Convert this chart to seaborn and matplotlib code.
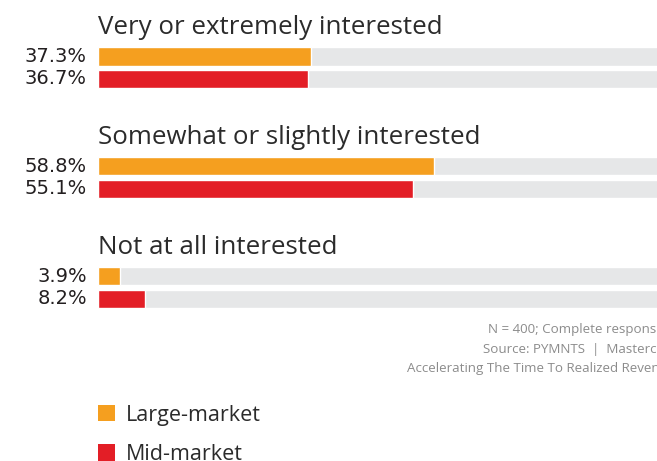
import matplotlib
matplotlib.use("Agg")
import matplotlib.pyplot as plt
import matplotlib.transforms as mtransforms
from matplotlib.patches import Patch
import seaborn as sns
import pandas as pd

# ---- data ----
groups = ["Very or extremely interested",
          "Somewhat or slightly interested",
          "Not at all interested"]
segments = ["Large-market", "Mid-market"]
large_market = [37.3, 58.8, 3.9]
mid_market = [36.7, 55.1, 8.2]
notes = ["N = 400; Complete responses",
         "Source: PYMNTS  |  Mastercard",
         "Accelerating The Time To Realized Revenue"]

colors = {"Large-market": "#F59F1F", "Mid-market": "#E31E26"}
track_color = "#E6E7E8"
text_color = "#231F20"

sns.set_theme(style="white")
plt.rcParams["font.family"] = ["Open Sans", "DejaVu Sans"]

W, H = 657, 461
fig = plt.figure(figsize=(W / 100, H / 100), dpi=100)

def fx(px):
    return px / W

def fy(py):
    return 1 - py / H

ax_left = 98
ax_right = 670
ax_h = 45
tops = [45.25, 155.0, 265.0]
title_base = [34, 144, 254]

for i, g in enumerate(groups):
    top = tops[i]
    ax = fig.add_axes([fx(ax_left), fy(top + ax_h), (ax_right - ax_left) / W, ax_h / H])
    df = pd.DataFrame({"segment": segments,
                       "value": [large_market[i], mid_market[i]],
                       "full": [100, 100]})
    sns.barplot(data=df, x="full", y="segment", color=track_color,
                width=0.82, ax=ax, saturation=1)
    sns.barplot(data=df, x="value", y="segment", hue="segment",
                palette=colors, width=0.82, ax=ax, saturation=1, legend=False)
    ax.set_xlim(0, 100)
    ax.set_ylim(1.5, -0.5)
    ax.set_axis_off()
    trans = mtransforms.blended_transform_factory(fig.transFigure, ax.transData)
    for j, v in enumerate(df["value"]):
        ax.text(fx(87), j, f"{v:.1f}%", transform=trans, ha="right", va="center",
                fontsize=14, color=text_color, clip_on=False,
                family=["DejaVu Sans"])
    fig.text(fx(98), fy(title_base[i]), g, ha="left", va="baseline",
             fontsize=18.6, color="#2b2b2b")

note_x = [488, 483, 407]
note_y = [329, 349, 368]
for t, x, y in zip(notes, note_x, note_y):
    fig.text(fx(x), fy(y), t, ha="left", va="center", fontsize=9.6, color="#8c8c8c")

handles = [Patch(facecolor=colors[s], edgecolor="none") for s in segments]
fig.legend(handles, segments, loc="upper left",
           bbox_to_anchor=(fx(89), fy(396)), frameon=False,
           fontsize=15.5, handlelength=0.79, handleheight=0.79,
           handletextpad=0.5, labelspacing=0.86, borderaxespad=0,
           labelcolor="#2b2b2b")

fig.savefig("out.png", dpi=100)
